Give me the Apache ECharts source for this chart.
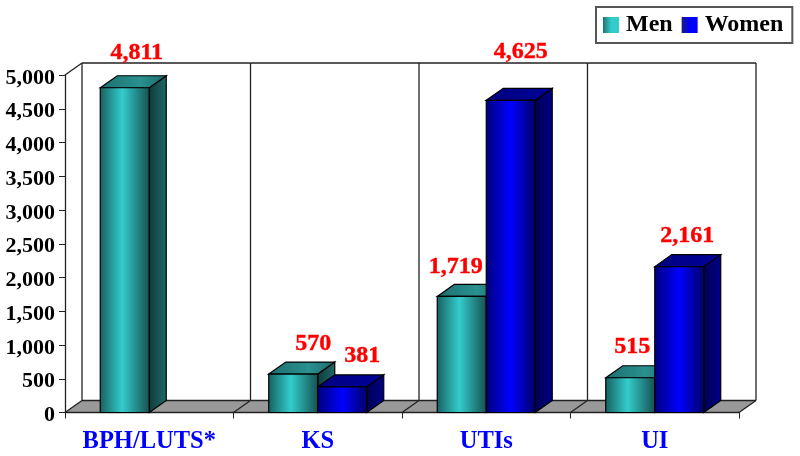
<!DOCTYPE html>
<html lang="en">
<head>
    <meta charset="utf-8">
    <title>Men and Women by condition</title>
    <script src="https://cdn.jsdelivr.net/npm/echarts@6/dist/echarts.min.js"></script>
    <style>
        html, body { margin: 0; padding: 0; background: #fff; }
    </style>
</head>
<body>
<div id="main" style="width:800px;height:456px"></div>
<script type="text/javascript">
    // values
    var categories = ['BPH/LUTS*', 'KS', 'UTIs', 'UI'];
    var men = [4811, 570, 1719, 515];
    var women = [null, 381, 4625, 2161];

    // the labels were hand placed in the original, so each has its own nudge from the bar top
    var menLabelShift = [[12, -35], [20, -30], [-6, -30], [2, -31]];
    var womenLabelShift = [null, [20, -31], [10, -49], [8, -31]];

    // fake 3D depth and bar width, in pixels
    var depthX = 17;
    var depthY = -12;
    var barW = 49;
    var font = '"Liberation Serif", "Times New Roman", serif';

    function hGrad(stops) {
        return new echarts.graphic.LinearGradient(0, 0, 1, 0, stops.map(function (c, i) {
            return { offset: c[0], color: c[1] };
        }));
    }

    var menLook = {
        front: hGrad([[0, '#17605f'], [0.45, '#33cccc'], [1, '#174f4f']]),
        top: hGrad([[0, '#1d6f6f'], [0.6, '#2a9090'], [1, '#1d6a6a']]),
        side: hGrad([[0, '#0e3a3a'], [1, '#1f6a68']]),
        legend: hGrad([[0, '#1f7070'], [0.5, '#33cccc'], [1, '#33cccc']])
    };
    var womenLook = {
        front: hGrad([[0, '#00007a'], [0.5, '#0000ff'], [1, '#000066']]),
        top: hGrad([[0, '#000080'], [1, '#000099']]),
        side: hGrad([[0, '#000050'], [1, '#00008a']]),
        legend: hGrad([[0, '#1c1c78'], [0.5, '#0000ff'], [1, '#0000ff']])
    };

    function poly(points, fill) {
        return {
            type: 'polygon',
            shape: { points: points },
            style: { fill: fill, stroke: '#000', lineWidth: 1.2 }
        };
    }

    function line(x1, y1, x2, y2) {
        return {
            type: 'line',
            shape: { x1: x1, y1: y1, x2: x2, y2: y2 },
            style: { stroke: '#222', lineWidth: 1.3 }
        };
    }

    // one bar: front, top and side faces, plus the value label
    function barRenderer(look, side, shifts) {
        return function (params, api) {
            var v = api.value(1);
            if (v == null || isNaN(v)) {
                return null;
            }
            var i = api.value(0);
            var base = api.coord([i, 0]);
            var top = api.coord([i, v]);
            var x0 = side < 0 ? base[0] - barW : base[0];
            var x1 = x0 + barW;
            var y0 = base[1];
            var y1 = top[1];
            var s = shifts[i];
            return {
                type: 'group',
                children: [
                    poly([[x1, y0], [x1 + depthX, y0 + depthY], [x1 + depthX, y1 + depthY], [x1, y1]], look.side),
                    poly([[x0, y1], [x0 + depthX, y1 + depthY], [x1 + depthX, y1 + depthY], [x1, y1]], look.top),
                    poly([[x0, y0], [x0, y1], [x1, y1], [x1, y0]], look.front),
                    {
                        type: 'text',
                        z2: 20,
                        style: {
                            text: v.toLocaleString('en-US'),
                            x: (x0 + x1) / 2 + s[0],
                            y: y1 + s[1],
                            align: 'center',
                            verticalAlign: 'middle',
                            fill: '#ff0000',
                            stroke: '#ff0000',
                            lineWidth: 0.4,
                            font: 'bold 24px ' + font
                        }
                    }
                ]
            };
        };
    }

    // floor and back wall of one category slot
    function wallRenderer(params, api) {
        var i = api.value(0);
        var base = api.coord([i, 0]);
        var size = api.size([1, 5000]);
        var xl = base[0] - size[0] / 2;
        var xr = base[0] + size[0] / 2;
        var yb = base[1];
        var yt = yb - size[1];
        var kids = [
            {
                type: 'polygon',
                shape: { points: [[xl, yb], [xl + depthX, yb + depthY], [xr + depthX, yb + depthY], [xr, yb]] },
                style: { fill: '#999999' }
            },
            line(xl, yb, xl + depthX, yb + depthY),
            line(xl + depthX, yb + depthY, xr + depthX, yb + depthY),
            line(xl + depthX, yb + depthY, xl + depthX, yt + depthY),
            line(xl + depthX, yt + depthY, xr + depthX, yt + depthY)
        ];
        if (i === 0) {
            kids.push(line(xl, yt, xl + depthX, yt + depthY));
        }
        if (i === categories.length - 1) {
            kids.push(line(xr, yb, xr + depthX, yb + depthY));
            kids.push(line(xr + depthX, yb + depthY, xr + depthX, yt + depthY));
        }
        return { type: 'group', children: kids };
    }

    var myChart = echarts.init(document.getElementById('main'));
    var option = {
        animation: false,
        backgroundColor: '#fff',
        grid: { left: 65, right: 61, top: 75, bottom: 43.5 },
        legend: {
            left: 596,
            top: 7,
            data: ['Men', 'Women'],
            icon: 'rect',
            itemWidth: 16,
            itemHeight: 16,
            itemGap: 9,
            padding: [6, 9, 6, 7],
            backgroundColor: '#fff',
            borderColor: '#555',
            borderWidth: 2,
            textStyle: { fontFamily: font, fontWeight: 'bold', fontSize: 24, color: '#000', padding: [0, 0, 0, 2] }
        },
        xAxis: {
            type: 'category',
            data: categories,
            z: 1,
            axisLine: { lineStyle: { color: '#222', width: 1.3 } },
            axisTick: { show: true, alignWithLabel: false, length: 6, lineStyle: { color: '#222' } },
            axisLabel: { margin: 17, fontFamily: font, fontWeight: 'bold', fontSize: 24.5, color: '#0000ff', interval: 0 },
            splitLine: { show: false }
        },
        yAxis: {
            type: 'value',
            min: 0,
            max: 5000,
            interval: 500,
            z: 1,
            axisLine: { show: true, lineStyle: { color: '#222', width: 1.3 } },
            axisTick: { show: true, length: 6, lineStyle: { color: '#222' } },
            axisLabel: {
                margin: 10,
                verticalAlign: 'top',
                lineHeight: 6,
                fontFamily: font,
                fontWeight: 'bold',
                fontSize: 22,
                color: '#000',
                formatter: function (v) { return v.toLocaleString('en-US'); }
            },
            splitLine: { show: false }
        },
        series: [
            {
                type: 'custom',
                name: 'walls',
                z: 0,
                silent: true,
                clip: false,
                renderItem: wallRenderer,
                data: categories.map(function (c, i) { return [i, 0]; })
            },
            {
                type: 'custom',
                name: 'Men',
                z: 2,
                clip: false,
                itemStyle: { color: menLook.legend },
                renderItem: barRenderer(menLook, -1, menLabelShift),
                encode: { x: 0, y: 1 },
                data: men.map(function (v, i) { return [i, v]; })
            },
            {
                type: 'custom',
                name: 'Women',
                z: 3,
                clip: false,
                itemStyle: { color: womenLook.legend },
                renderItem: barRenderer(womenLook, 1, womenLabelShift),
                encode: { x: 0, y: 1 },
                data: women.map(function (v, i) { return [i, v]; })
            }
        ]
    };
    myChart.setOption(option);
</script>
</body>
</html>
